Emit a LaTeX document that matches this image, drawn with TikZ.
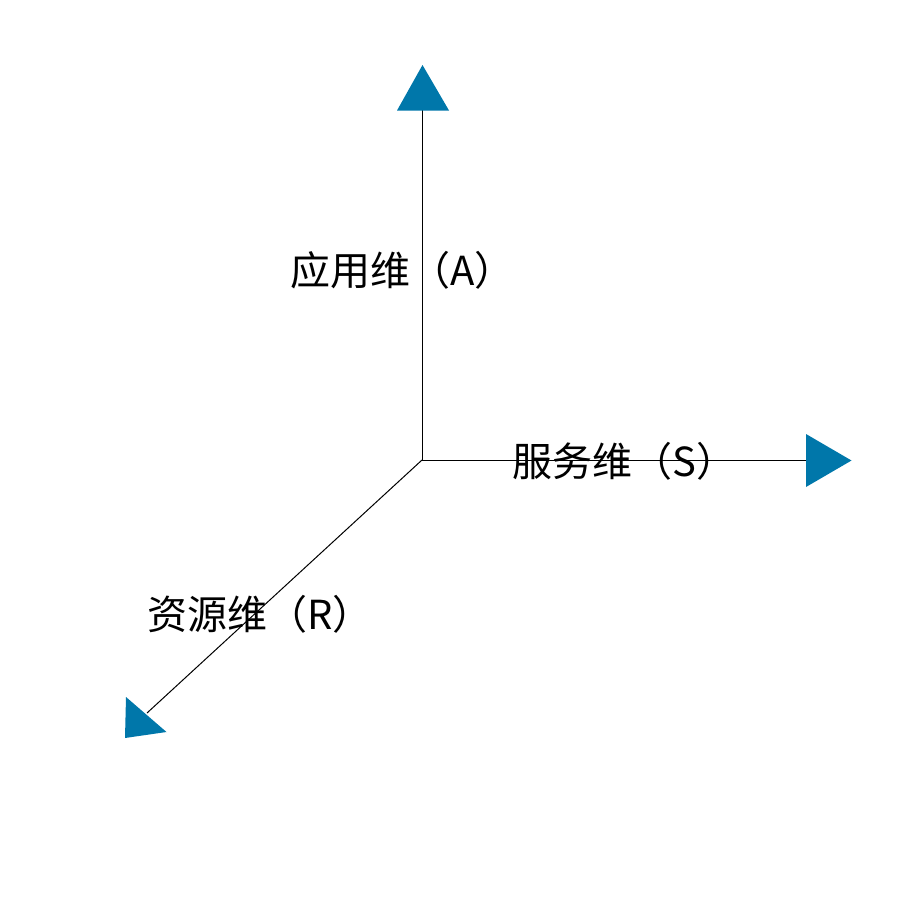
\documentclass[tikz,border=0pt]{standalone}
\usepackage{fontspec}
\newfontfamily\cjk{Noto Sans CJK SC}
\definecolor{axisblue}{RGB}{0,119,170}
\begin{document}
\begin{tikzpicture}[x=0.5pt,y=-0.5pt,
  axis/.style={line width=0.5pt,black},
  head/.style={fill=axisblue},
  lbl/.style={font=\cjk\fontsize{20pt}{22pt}\selectfont, anchor=west, inner sep=0pt}]
\useasboundingbox (0,0) rectangle (900,900);
\coordinate (O) at (422,460);
\coordinate (Aend) at (422,110);
\coordinate (Send) at (806,460);
\coordinate (Rend) at (147,713);
\draw[axis] (O) -- (Aend);
\draw[axis] (O) -- (Send);
\draw[axis] (O) -- (Rend);
\fill[head] (397,110.5) -- (422.5,65) -- (449,110.5) -- cycle;
\fill[head] (806,434) -- (851.5,460.5) -- (806,487) -- cycle;
\fill[head] (126,697) -- (166.5,732) -- (125,738) -- cycle;
\node[lbl] (A) at (290,270) {应用维（A）};
\node[lbl] (S) at (512,461) {服务维（S）};
\node[lbl] (R) at (147,614) {资源维（R）};
\end{tikzpicture}
\end{document}
